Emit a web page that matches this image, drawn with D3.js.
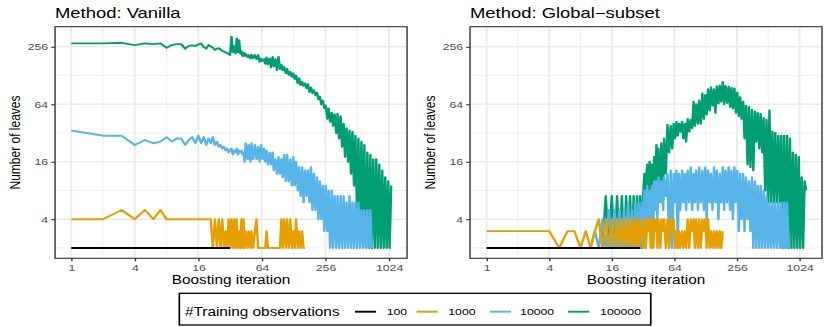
<!DOCTYPE html>
<html>
<head>
<meta charset="utf-8">
<script src="https://cdn.jsdelivr.net/npm/d3@7"></script>
<style>
  body { margin: 0; background: #fff; }
  svg { display: block; }
</style>
</head>
<body>
<svg id="chart" width="830" height="327"></svg>
<script>
const iterations = [
  1, 2, 3, 4, 5, 6, 7, 8, 9, 10, 11, 12, 13, 14, 15, 16,
  17, 18, 19, 20, 21, 22, 23, 24, 25, 26, 27, 28, 29, 30, 31, 32,
  33, 34, 35, 36, 37, 38, 39, 40, 41, 42,
  43, 44, 45, 47, 48, 50, 51, 53, 55, 57,
  59, 61, 63, 65, 67, 69, 71, 73, 76, 78,
  81, 83, 86, 89, 92, 95, 98, 101, 104, 108,
  111, 115, 119, 123, 127, 131, 135, 140, 144, 149,
  154, 159, 164, 170, 175, 181, 187, 193, 199, 206,
  213, 220, 227, 234, 242, 250, 258, 267, 275, 284,
  294, 303, 313, 324, 334, 345, 357, 368, 381, 393,
  406, 420, 433, 448, 462, 478, 493, 510, 526, 544,
  562, 580, 599, 619, 640, 661, 683, 705, 728, 752,
  777, 803, 829, 857, 885, 914, 944, 975, 1007, 1040,
  1075, 1110, 1147, 1185
];

const seriesNames = ["100", "1000", "10000", "100000"];
const seriesColours = ["#000000", "#E69F00", "#56B4E9", "#009E73"];

// Method: Vanilla -- number of leaves (same index as iterations)
const vanilla100 = [
  2, 2, 2, 2, 2, 2, 2, 2, 2, 2, 2, 2, 2, 2, 2, 2,
  2, 2, 2, 2, 2, 2, 2, 2, 2, 2, 2, 2, 2, 2, 2, 2
];
const vanilla1000 = [
  4, 4, 5, 4, 5, 4, 5, 4, 4, 4, 4, 4, 4, 4, 4, 4,
  4, 4, 4, 4, 4, 2, 4, 2, 4, 2, 4, 2, 3, 2, 4, 2,
  4, 2, 4, 2, 4, 2, 3, 2, 4, 2,
  4, 2, 3, 2, 3, 2, 3, 2, 3, 4,
  2, 2, 2, 2, 2, 2, 3, 2, 2, 2,
  2, 2, 2, 2, 2, 2, 4, 2, 4, 2,
  4, 2, 4, 2, 3, 2, 4, 2, 3, 2,
  3, 2, 2
];
const vanilla10000 = [
  34, 30, 30, 24, 27, 25, 26, 29, 26, 28, 28, 24, 27, 29, 25, 30,
  25, 29, 24, 28, 25, 29, 24, 26, 23, 24, 22, 23, 21, 22, 20, 21,
  22, 19, 21, 20, 22, 19, 21, 20, 21, 19,
  20, 16, 25, 17, 24, 16, 25, 17, 24, 17,
  23, 16, 24, 17, 22, 16, 21, 15, 20, 15,
  20, 13, 17, 12, 18, 12, 17, 11, 19, 10,
  19, 10, 17, 9, 18, 9, 16, 8, 14, 7,
  14, 6, 13, 7, 13, 6, 14, 5, 12, 5,
  11, 4, 10, 4, 9, 3, 9, 3, 8, 2,
  8, 2, 7, 2, 7, 2, 7, 2, 7, 2,
  6, 2, 7, 2, 6, 2, 6, 2, 6, 2,
  5, 2, 5, 2, 5, 2, 5, 2
];
const vanilla100000 = [
  278, 278, 282, 267, 278, 273, 278, 250, 267, 273, 273, 245, 262, 265, 262, 270,
  278, 255, 245, 267, 258, 250, 237, 245, 247, 240, 232, 228, 224, 220, 215, 210,
  326, 226, 260, 218, 313, 225, 300, 218, 230, 205,
  222, 205, 215, 200, 210, 193, 212, 195, 210, 190,
  210, 178, 192, 182, 190, 170, 198, 168, 193, 156,
  200, 160, 190, 146, 201, 150, 165, 145, 158, 135,
  150, 130, 140, 124, 135, 118, 128, 106, 120, 102,
  110, 100, 106, 94, 104, 86, 96, 84, 90, 80,
  85, 72, 77, 64, 70, 58, 62, 45, 58, 42,
  52, 38, 50, 32, 51, 28, 48, 23, 40, 18,
  36, 16, 34, 12, 33, 9, 30, 5, 28, 4,
  26, 3, 24, 2, 20, 2, 19, 2, 17, 2,
  17, 2, 15, 2, 13, 2, 11, 2, 10, 2,
  9
];

// Method: Global-subset
const global100 = [
  2, 2, 2, 2, 2, 2, 2, 2, 2, 2, 2, 2, 2, 2, 2, 2,
  2, 2, 2, 2, 2, 2, 2, 2, 2, 2, 2, 2, 2, 2
];
const global1000 = [
  3, 3, 3, 3, 2, 3, 3, 2, 3, 2, 3, 4, 2, 4, 2, 4,
  2, 4, 2, 4, 2, 4, 2, 4, 2, 4, 2, 4, 2, 4, 3, 2,
  4, 2, 4, 3, 4, 2, 4, 2, 4, 3,
  4, 2, 4, 2, 4, 3, 4, 2, 4, 2,
  4, 3, 4, 2, 3, 2, 3, 2, 3, 2,
  3, 2, 4, 2, 4, 3, 4, 2, 4, 2,
  4, 2, 4, 3, 4, 2, 4, 2, 3, 2,
  3, 2, 3, 2, 3, 2, 3
];
const global10000 = [
  2, 2, 2, 2, 2, 2, 2, 2, 2, 2, 3, 2, 4, 2, 5, 2,
  5, 2, 5, 2, 5, 2, 6, 2, 5, 2, 6, 2, 6, 2, 6, 2,
  8, 2, 9, 3, 8, 4, 9, 2, 10, 5,
  10, 4, 11, 6, 10, 5, 11, 7, 12, 2,
  13, 2, 12, 6, 13, 2, 12, 5, 13, 6,
  12, 5, 13, 6, 14, 5, 12, 6, 13, 5,
  14, 6, 13, 5, 14, 4, 13, 6, 12, 5,
  14, 6, 13, 4, 12, 6, 14, 5, 13, 6,
  14, 5, 13, 4, 14, 6, 13, 3, 12, 4,
  12, 3, 11, 4, 10, 3, 11, 2, 10, 2,
  9, 2, 9, 2, 8, 2, 7, 2, 6, 2,
  6, 2, 6, 2, 6, 2, 6, 2, 6, 2,
  6, 2
];
const global100000 = [
  2, 2, 2, 2, 2, 2, 2, 2, 2, 2, 2, 2, 2, 7, 2, 7,
  2, 7, 2, 7, 2, 7, 2, 7, 2, 7, 2, 7, 2, 7, 2, 7,
  12, 7, 15, 7, 16, 7, 15, 7, 18, 7,
  24, 7, 22, 7, 25, 8, 28, 12, 39, 20,
  38, 22, 40, 28, 42, 30, 40, 33, 42, 28,
  40, 26, 45, 33, 44, 36, 68, 38, 64, 40,
  70, 40, 83, 45, 80, 50, 92, 55, 96, 62,
  92, 52, 99, 65, 100, 68, 110, 64, 100, 66,
  98, 60, 95, 58, 94, 52, 85, 48, 76, 45,
  68, 28, 62, 15, 60, 14, 56, 13, 54, 26,
  52, 22, 51, 20, 46, 8, 44, 6, 55, 6,
  33, 6, 32, 6, 30, 6, 30, 2, 30, 2,
  30, 2, 28, 2, 20, 2, 19, 2, 18, 2,
  11, 2, 10, 8
];

const xTicks = [1, 4, 16, 64, 256, 1024];
const xMinor = [2, 8, 32, 128, 512];
const yTicks = [4, 16, 64, 256];
const yMinor = [2, 8, 32, 128];

// the source plot is stretched horizontally; draw in narrower space and scale
const sx = 1.28;
const W = 830 / sx;
const half = W / 2;
const panel = { left: 43, right: 318, top: 26.7, bottom: 258.3 };
const font = "'Liberation Sans', Arial, Helvetica, sans-serif";

const facets = [
  { title: "Method: Vanilla", xDomain: [2 ** -0.51, 2 ** 10.57],
    series: [vanilla100, vanilla1000, vanilla10000, vanilla100000] },
  { title: "Method: Global\u2212subset", xDomain: [2 ** -0.53, 2 ** 10.72],
    series: [global100, global1000, global10000, global100000] }
];

const svg = d3.select("#chart");
const root = svg.append("g").attr("transform", `scale(${sx},1)`);

const y = d3.scaleLog().base(2)
  .domain([2 ** 0.64, 2 ** 8.70])
  .range([panel.bottom, panel.top]);

facets.forEach((f, fi) => {
  const g = root.append("g").attr("transform", `translate(${fi * half},0)`);
  const x = d3.scaleLog().base(2).domain(f.xDomain).range([panel.left, panel.right]);

  // --- grid ---
  const grid = g.append("g");
  grid.selectAll(".xminor").data(xMinor).enter().append("line")
    .attr("x1", d => x(d)).attr("x2", d => x(d))
    .attr("y1", panel.top).attr("y2", panel.bottom)
    .attr("stroke", "#EBEBEB").attr("stroke-width", 0.7);
  grid.selectAll(".yminor").data(yMinor).enter().append("line")
    .attr("y1", d => y(d)).attr("y2", d => y(d))
    .attr("x1", panel.left).attr("x2", panel.right)
    .attr("stroke", "#EBEBEB").attr("stroke-width", 0.7);
  grid.selectAll(".xmajor").data(xTicks).enter().append("line")
    .attr("x1", d => x(d)).attr("x2", d => x(d))
    .attr("y1", panel.top).attr("y2", panel.bottom)
    .attr("stroke", "#EBEBEB").attr("stroke-width", 1.4);
  grid.selectAll(".ymajor").data(yTicks).enter().append("line")
    .attr("y1", d => y(d)).attr("y2", d => y(d))
    .attr("x1", panel.left).attr("x2", panel.right)
    .attr("stroke", "#EBEBEB").attr("stroke-width", 1.4);

  // --- lines (largest first so the smaller sets sit on top) ---
  const line = d3.line()
    .defined(d => d[1] != null)
    .x(d => x(d[0]))
    .y(d => y(d[1]));

  const order = [3, 2, 1, 0];
  order.forEach(si => {
    const pts = f.series[si].map((v, i) => [iterations[i], v]);
    g.append("path")
      .datum(pts)
      .attr("d", line)
      .attr("fill", "none")
      .attr("stroke", seriesColours[si])
      .attr("stroke-width", 1.9)
      .attr("stroke-linejoin", "round");
  });

  // --- panel border ---
  g.append("rect")
    .attr("x", panel.left).attr("y", panel.top)
    .attr("width", panel.right - panel.left)
    .attr("height", panel.bottom - panel.top)
    .attr("fill", "none").attr("stroke", "#333333").attr("stroke-width", 1.1);

  // --- axes ---
  const styleAxis = a => {
    a.select(".domain").remove();
    a.selectAll("line").attr("stroke", "#333333").attr("stroke-width", 1.1);
    a.selectAll("text").attr("fill", "#4D4D4D").attr("font-size", 9.6).attr("font-family", font);
  };
  g.append("g")
    .attr("transform", `translate(0,${panel.bottom})`)
    .call(d3.axisBottom(x).tickValues(xTicks).tickFormat(d3.format("d")).tickSize(3).tickPadding(2.4))
    .call(styleAxis);
  g.append("g")
    .attr("transform", `translate(${panel.left},0)`)
    .call(d3.axisLeft(y).tickValues(yTicks).tickFormat(d3.format("d")).tickSize(3).tickPadding(2.4))
    .call(styleAxis);

  // --- titles ---
  g.append("text")
    .attr("x", panel.left).attr("y", 18.3)
    .attr("font-family", font).attr("font-size", 14.4).attr("fill", "#000")
    .text(f.title);
  g.append("text")
    .attr("x", (panel.left + panel.right) / 2).attr("y", 284)
    .attr("text-anchor", "middle")
    .attr("font-family", font).attr("font-size", 12).attr("fill", "#000")
    .text("Boosting iteration");
  g.append("text")
    .attr("transform", `translate(15.6,${(panel.top + panel.bottom) / 2}) rotate(-90)`)
    .attr("text-anchor", "middle")
    .attr("font-family", font).attr("font-size", 12).attr("fill", "#000")
    .text("Number of leaves");
});

// --- legend ---
const legend = root.append("g");
legend.append("rect")
  .attr("x", 140.1).attr("y", 293.3).attr("width", 368.3).attr("height", 31.7)
  .attr("fill", "#fff").attr("stroke", "#000").attr("stroke-width", 1.3);
legend.append("text")
  .attr("x", 144.5).attr("y", 316)
  .attr("font-family", font).attr("font-size", 12).attr("fill", "#000")
  .text("#Training observations");

const keyX = [277.3, 325.5, 382.8, 443.8];
const labelX = [302.1, 350.2, 406.3, 468.8];
seriesNames.forEach((name, i) => {
  legend.append("line")
    .attr("x1", keyX[i]).attr("x2", keyX[i] + 16.5)
    .attr("y1", 311.7).attr("y2", 311.7)
    .attr("stroke", seriesColours[i]).attr("stroke-width", 1.9);
  legend.append("text")
    .attr("x", labelX[i]).attr("y", 315)
    .attr("font-family", font).attr("font-size", 9.6).attr("fill", "#000")
    .text(name);
});
</script>
</body>
</html>
